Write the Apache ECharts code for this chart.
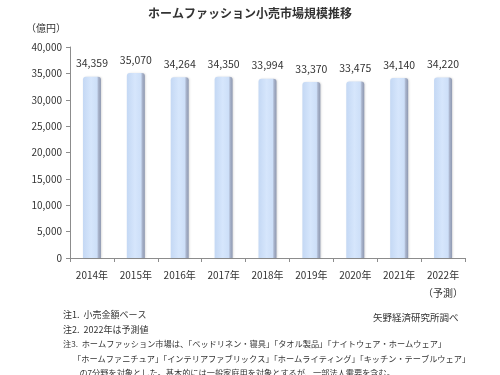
<!DOCTYPE html>
<html><head><meta charset="utf-8">
<script src="https://cdn.jsdelivr.net/npm/echarts@6/dist/echarts.min.js"></script>
<style>html,body{margin:0;padding:0;background:#fff}#c{width:500px;height:375px}</style>
</head><body><div id="c"></div>
<script>
const categories = ['2014年','2015年','2016年','2017年','2018年','2019年','2020年','2021年','2022年'];
const values = [34359, 35070, 34264, 34350, 33994, 33370, 33475, 34140, 34220];
const yTicks = [0, 5000, 10000, 15000, 20000, 25000, 30000, 35000, 40000];
const title = 'ホームファッション小売市場規模推移';
const unitLabel = '（億円）';
const notes = [
  '注1.  小売金額ベース',
  '注2.  2022年は予測値',
  '注3.  ホームファッション市場は、「ベッドリネン・寝具」「タオル製品」「ナイトウェア・ホームウェア」',
  '　 「ホームファニチュア」「インテリアファブリックス」「ホームライティング」「キッチン・テーブルウェア」',
  '　　の7分野を対象とした。基本的には一般家庭用を対象とするが、一部法人需要を含む。'
];
const source = '矢野経済研究所調べ';
const FONT = '"Noto Sans CJK JP", "Noto Sans", sans-serif';
const chart = echarts.init(document.getElementById('c'));
const fmt = v => v.toLocaleString('en-US');
chart.setOption({
  animation: false,
  textStyle: {fontFamily: FONT},
  title: {text: title, left: 'center', top: 2, textStyle: {fontSize: 12, fontWeight: 'bold', color: '#333', fontFamily: FONT}},
  grid: {left: 70, right: 35, top: 47, bottom: 117},
  xAxis: {
    type: 'category', data: categories,
    axisLine: {lineStyle: {color: '#8c8c8c'}},
    axisTick: {show: true, length: 4, lineStyle: {color: '#8c8c8c'}},
    axisLabel: {interval: 0, color: '#333', fontSize: 10, margin: 8, fontFamily: FONT,
      formatter: (v, i) => i === categories.length - 1 ? v + '\n（予測）' : v, lineHeight: 18}
  },
  yAxis: {
    type: 'value', min: yTicks[0], max: yTicks[yTicks.length-1], interval: 5000,
    axisLine: {show: true, lineStyle: {color: '#8c8c8c'}},
    axisTick: {show: true, length: 4, lineStyle: {color: '#8c8c8c'}},
    splitLine: {show: false},
    axisLabel: {color: '#333', fontSize: 10, margin: 8, fontFamily: FONT, formatter: v => fmt(v)}
  },
  series: [{
    type: 'bar', data: values, barWidth: 18,
    itemStyle: {
      borderRadius: [3, 3, 0, 0],
      color: {type: 'linear', x: 0, y: 0, x2: 1, y2: 0, colorStops: [
        {offset: 0, color: '#c4d8f4'}, {offset: 0.45, color: '#d6e6fc'},
        {offset: 0.78, color: '#cddff8'}, {offset: 0.86, color: '#a9b4cc'}, {offset: 1, color: '#8e98b0'}]},
      shadowColor: 'rgba(0,0,0,0.12)', shadowBlur: 2, shadowOffsetX: 1
    },
    label: {show: true, position: 'top', distance: 8, color: '#333', fontSize: 10.5, fontFamily: FONT, formatter: p => fmt(p.value)}
  }],
  graphic: [
    {type: 'text', left: 26, top: 23, style: {text: unitLabel, fill: '#333', font: '10px ' + FONT}},
    {type: 'text', left: 373, top: 313, style: {text: source, fill: '#333', font: '9.5px ' + FONT}},
    ...notes.map((n, i) => ({type: 'text', left: 63, top: (i < 2 ? 310.5 : 311) + i * 14.5,
      style: {text: n, fill: '#333', font: (i < 2 ? '9px ' : '8.2px ') + FONT}}))
  ]
});
</script></body></html>
